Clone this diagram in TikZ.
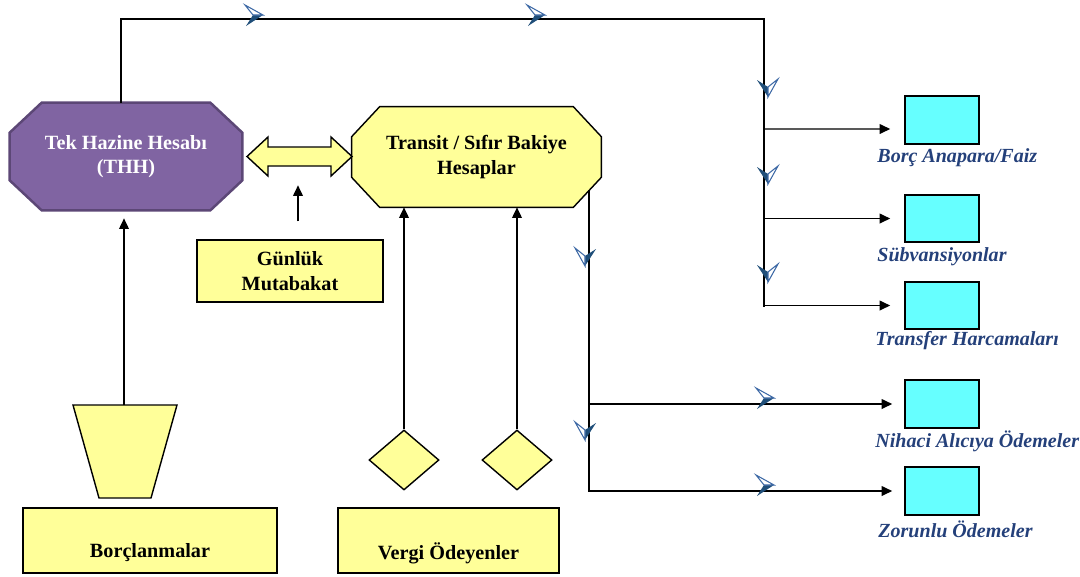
\documentclass[tikz,border=0pt]{standalone}
\usepackage{fontspec}
\setmainfont{Liberation Serif}
\usetikzlibrary{arrows.meta,shapes.geometric,backgrounds}
\definecolor{thhpurple}{RGB}{128,100,162}
\definecolor{thhedge}{RGB}{92,71,118}
\definecolor{paleyellow}{RGB}{255,255,153}
\definecolor{paycyan}{RGB}{102,255,255}
\definecolor{labelblue}{RGB}{36,64,122}
\definecolor{markdark}{RGB}{31,78,121}
\definecolor{marklight}{RGB}{60,104,165}
\tikzset{
  flowline/.style={line width=0.8pt},
  flowarrow/.style={line width=0.8pt, -{Triangle[length=6pt,width=5.5pt]}},
  yellowbox/.style={draw, line width=0.8pt, fill=paleyellow, inner sep=0pt},
  paybox/.style={draw, line width=0.9pt, fill=paycyan, minimum width=1.48cm, minimum height=0.95cm},
  boldtext/.style={font=\fontsize{11.5}{14}\selectfont\bfseries, align=center},
  paylabel/.style={anchor=west, text=labelblue, font=\fontsize{11.4}{13}\selectfont\bfseries\itshape},
  flowmark/.pic={
    \fill[markdark] (0,-4) -- (-17,7) -- (-10,-4) -- cycle;
    \draw[marklight, line width=0.6pt, fill=white] (0,-4) -- (-18,-14) -- (-10,-4) -- cycle;
  }
}
\begin{document}
\begin{tikzpicture}[x=0.02cm, y=-0.02cm, line join=miter]
  \useasboundingbox (0,0) rectangle (1080,576);
  % accounts
  \node[boldtext, text=white, minimum width=4.64cm, minimum height=2.14cm] (thh) at (126,156.5) {Tek Hazine Hesabı\\(THH)};
  \node[boldtext, minimum width=4.98cm, minimum height=2cm] (transit) at (476.5,157) {Transit / Sıfır Bakiye\\Hesaplar};
  \begin{scope}[on background layer]
    \filldraw[fill=thhpurple, draw=thhedge, line width=1.4pt]
      ([xshift=0.64cm]thh.north west) -- ([xshift=-0.64cm]thh.north east)
      -- ([yshift=-0.6cm]thh.north east) -- ([yshift=0.6cm]thh.south east)
      -- ([xshift=-0.64cm]thh.south east) -- ([xshift=0.64cm]thh.south west)
      -- ([yshift=0.6cm]thh.south west) -- ([yshift=-0.6cm]thh.north west) -- cycle;
    \filldraw[fill=paleyellow, draw=black, line width=0.8pt]
      ([xshift=0.56cm]transit.north west) -- ([xshift=-0.56cm]transit.north east)
      -- ([yshift=-0.6cm]transit.north east) -- ([yshift=0.6cm]transit.south east)
      -- ([xshift=-0.56cm]transit.south east) -- ([xshift=0.56cm]transit.south west)
      -- ([yshift=0.6cm]transit.south west) -- ([yshift=-0.6cm]transit.north west) -- cycle;
  \end{scope}
  % two-way link
  \filldraw[fill=paleyellow, draw=black, line width=0.8pt]
    (247,156.5) -- (268,137) -- (268,147) -- (331,147) -- (331,137) -- (352,156.5)
    -- (331,176) -- (331,166) -- (268,166) -- (268,176) -- cycle;
  \node[yellowbox, boldtext, minimum width=3.72cm, minimum height=1.24cm] (recon) at (290,271) {Günlük\\Mutabakat};
  \draw[flowarrow] ([xshift=0.16cm, yshift=0.36cm]recon.north) -- ++(0,-36);
  % sources
  \filldraw[fill=paleyellow, draw=black, line width=0.8pt]
    (73,405) -- (177,405) -- (151,498) -- (99,498) -- cycle;
  \coordinate (inflow) at (124,405);
  \node[yellowbox, diamond, minimum width=1.4cm, minimum height=1.2cm] (tax1) at (404,460) {};
  \node[yellowbox, diamond, minimum width=1.4cm, minimum height=1.2cm] (tax2) at (517,460) {};
  \node[yellowbox, minimum width=5.08cm, minimum height=1.3cm] (loans) at (150,540.5) {};
  \node[yellowbox, minimum width=4.42cm, minimum height=1.3cm] (payers) at (448.5,540.5) {};
  \node[boldtext] (loanstext) at (150,553) {Borçlanmalar};
  \node[boldtext] (payerstext) at (448.5,553) {Vergi Ödeyenler};
  \draw[flowarrow, shorten >=0.16cm] (inflow) -- (inflow |- thh.south);
  \draw[flowarrow] (tax1.north) -- (tax1.north |- transit.south);
  \draw[flowarrow] (tax2.north) -- (tax2.north |- transit.south);
  % payments
  \node[paybox] (debt) at (942,120) {};
  \node[paybox] (subsidy) at (942,218.5) {};
  \node[paybox] (transfer) at (942,305.5) {};
  \node[paybox] (final) at (942,404) {};
  \node[paybox] (mandatory) at (942,491) {};
  \node[paylabel] (debtlabel) at ([xshift=-0.66cm, yshift=-0.27cm]debt.south west) {Borç Anapara/Faiz};
  \node[paylabel] (subsidylabel) at ([xshift=-0.66cm, yshift=-0.28cm]subsidy.south west) {Sübvansiyonlar};
  \node[paylabel] (transferlabel) at ([xshift=-0.7cm, yshift=-0.22cm]transfer.south west) {Transfer Harcamaları};
  \node[paylabel] (finallabel) at ([xshift=-0.7cm, yshift=-0.26cm]final.south west) {Nihaci Alıcıya Ödemeler};
  \node[paylabel] (mandatorylabel) at ([xshift=-0.64cm, yshift=-0.28cm]mandatory.south west) {Zorunlu Ödemeler};
  % upper bus from THH
  \coordinate (bustop) at (764,19);
  \coordinate (busend) at (764,307);
  \draw[flowline] ([xshift=-0.1cm]thh.north) |- (bustop) -- (busend);
  \draw[flowarrow, shorten >=0.28cm] (bustop |- 0,129) -- ([yshift=-0.18cm]debt.west);
  \draw[flowarrow, shorten >=0.28cm] (bustop |- subsidy.west) -- (subsidy.west);
  \draw[flowarrow, shorten >=0.28cm] (bustop |- transfer.west) -- (transfer.west);
  % lower bus from transit
  \coordinate (bus2top) at (589,190);
  \draw[flowarrow, shorten >=0.24cm] (bus2top) |- (mandatory.west);
  \draw[flowarrow, shorten >=0.24cm] (bus2top |- final.west) -- (final.west);
  % direction marks
  \foreach \x in {263,545} \pic at (\x,19) {flowmark};
  \foreach \y in {97,184,282} \pic[rotate=-90] at (764,\y) {flowmark};
  \foreach \y in {266,440} \pic[rotate=-90, yscale=-1] at (589,\y) {flowmark};
  \foreach \y in {402,489} \pic at (774,\y) {flowmark};
\end{tikzpicture}
\end{document}
